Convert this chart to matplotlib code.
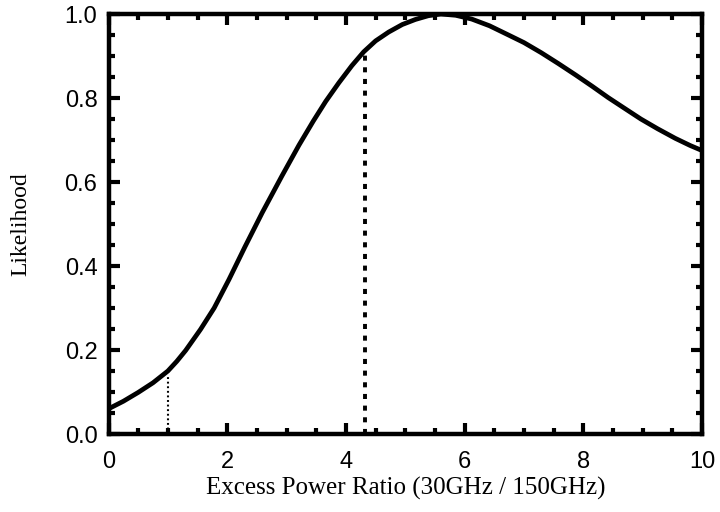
import matplotlib
matplotlib.use("Agg")
import matplotlib.pyplot as plt
from matplotlib.ticker import MultipleLocator

# Curve
ratio = [0.0, 0.25, 0.5, 0.75, 1.0, 1.15, 1.30, 1.55, 1.78, 2.03, 2.30, 2.59,
         2.92, 3.21, 3.45, 3.66, 3.88, 4.10, 4.30, 4.50, 4.72, 4.95, 5.17,
         5.39, 5.60, 5.85, 6.12, 6.42, 6.74, 7.00, 7.29, 7.58, 7.87, 8.15,
         8.42, 8.70, 8.97, 9.25, 9.55, 9.80, 10.0]
likelihood = [0.060, 0.078, 0.099, 0.122, 0.150, 0.173, 0.199, 0.249, 0.300,
              0.368, 0.446, 0.527, 0.614, 0.688, 0.745, 0.792, 0.836, 0.877,
              0.910, 0.936, 0.957, 0.975, 0.987, 0.996, 1.000, 0.997, 0.988,
              0.972, 0.950, 0.932, 0.908, 0.882, 0.855, 0.828, 0.801, 0.775,
              0.750, 0.727, 0.704, 0.687, 0.675]

dashed_x = 4.32
dashed_top = 0.912
dotted_x = 1.0
dotted_top = 0.136

xticks = [0, 2, 4, 6, 8, 10]
yticks = [0.0, 0.2, 0.4, 0.6, 0.8, 1.0]

fig = plt.figure(figsize=(7.2, 5.12), dpi=100)
ax = fig.add_axes([0.1507, 0.1523, 0.8243, 0.8203])

ax.plot(ratio, likelihood, color="black", lw=3.4, solid_joinstyle="round",
        solid_capstyle="butt")

ax.plot([dashed_x, dashed_x], [0, dashed_top], color="black", lw=2.8,
        linestyle=(0, (1.3, 1.7)))
ax.plot([dotted_x, dotted_x], [0, dotted_top], color="black", lw=1.5,
        linestyle=(0, (0.9, 1.3)))

ax.set_xlim(0, 10)
ax.set_ylim(0, 1.0)
ax.set_xticks(xticks)
ax.set_yticks(yticks)
ax.set_xticklabels([str(t) for t in xticks])
ax.set_yticklabels([f"{t:.1f}" for t in yticks])
ax.xaxis.set_minor_locator(MultipleLocator(0.5))
ax.yaxis.set_minor_locator(MultipleLocator(0.05))

ax.tick_params(which="both", direction="in", top=True, right=True, width=3.0)
ax.tick_params(which="major", length=8, labelsize=17)
ax.tick_params(which="minor", length=4)
ax.tick_params(axis="x", which="major", pad=12)
ax.tick_params(axis="y", which="major", pad=8)
for lab in ax.get_xticklabels() + ax.get_yticklabels():
    lab.set_family("Liberation Sans")

for s in ax.spines.values():
    s.set_linewidth(3.2)

ax.set_xlabel("Excess Power Ratio (30GHz / 150GHz)", family="Liberation Serif",
              fontsize=18)
ax.set_ylabel("Likelihood", family="Liberation Serif", fontsize=17)
ax.xaxis.set_label_coords(0.5, -0.103)
ax.yaxis.set_label_coords(-0.13, 0.5)

fig.savefig("out.png", dpi=100)
